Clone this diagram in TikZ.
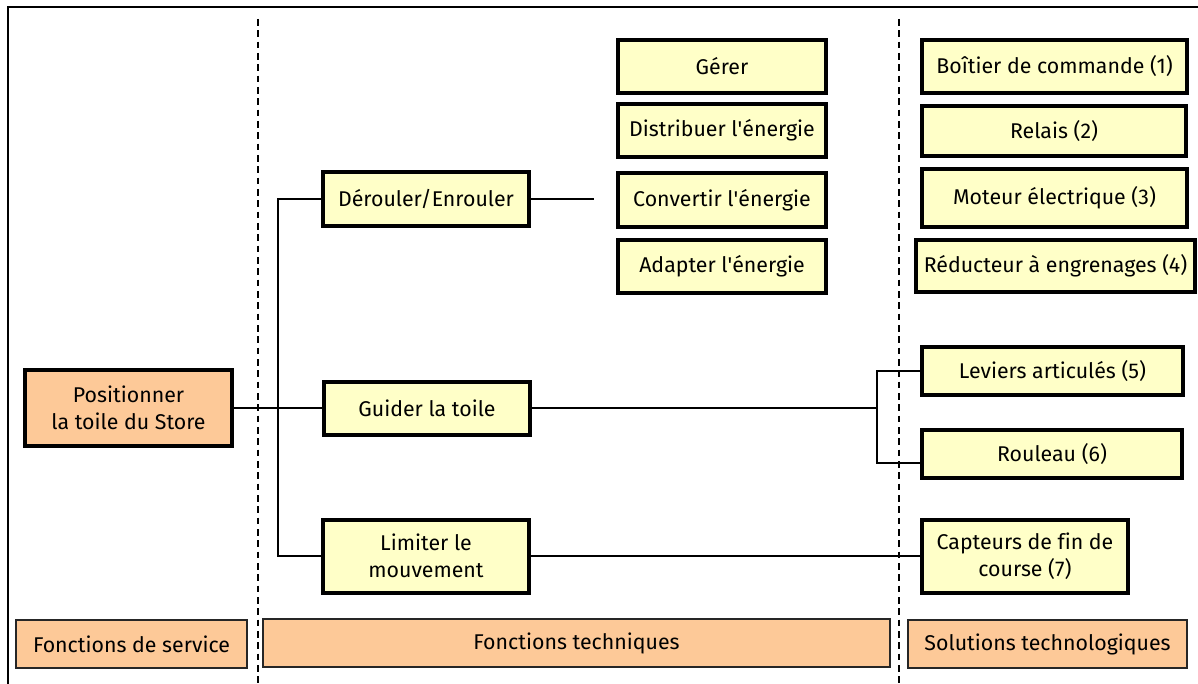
\documentclass[tikz,border=0pt]{standalone}
\usepackage{fontspec}
\setmainfont[Ligatures=NoCommon]{Fira Sans}
\definecolor{boxyellow}{HTML}{FFFFC8}
\definecolor{boxorange}{HTML}{FDC998}
\newcommand{\apos}{\textquotesingle}
\tikzset{
  px/.style={x=0.75pt,y=-0.75pt},
  bx/.style 2 args={minimum width=#1*0.75pt, minimum height=#2*0.75pt},
  fbox/.style={draw=black, line width=3pt, fill=boxyellow, inner sep=0pt, align=center,
    anchor=center, font=\fontsize{16}{20.5}\selectfont},
  sbox/.style={fbox, fill=boxorange},
  legbox/.style={draw=black!85, line width=1.2pt, fill=boxorange, inner sep=0pt, align=center,
    anchor=center, font=\fontsize{16}{20}\selectfont},
  conn/.style={line width=1.15pt},
  sep/.style={line width=1.4pt, dash pattern=on 5pt off 3.5pt},
}
\begin{document}
\begin{tikzpicture}[px]
\clip (0,0) rectangle (1198,684);
\fill[white] (0,0) rectangle (1198,684);
\draw[line width=1.1pt] (8,7) rectangle (1240,720);
% separators
\coordinate (s1t) at (258,19); \coordinate (s1b) at (258,690);
\coordinate (s2t) at (899,19); \coordinate (s2b) at (899,690);
\draw[sep] (s1t) -- (s1b);
\draw[sep] (s2t) -- (s2b);
% service function
\node[sbox, bx={207}{76}] (pos) at (128.5,408) {Positionner\\la toile du Store};
% technical functions
\node[fbox, bx={206}{54}] (der) at (426,199) {Dérouler/Enrouler};
\node[fbox, bx={206}{53}] (gui) at (427,408) {Guider la toile};
\node[fbox, bx={206}{73}] (lim) at (426,556) {Limiter le\\mouvement};
\node[fbox, bx={208}{53}] (ger) at (722,66.5) {Gérer};
\node[fbox, bx={208}{53}] (dis) at (722,130.5) {Distribuer l\apos énergie};
\node[fbox, bx={208}{54}] (con) at (722,200) {Convertir l\apos énergie};
\node[fbox, bx={208}{53}] (ada) at (722,266.5) {Adapter l\apos énergie};
% solutions
\node[fbox, bx={265}{53}] (boi) at (1054.5,66.5) {Boîtier de commande (1)};
\node[fbox, bx={264}{50}] (rel) at (1054,131) {Relais (2)};
\node[fbox, bx={265}{58}] (mot) at (1054.5,198) {Moteur électrique (3)};
\node[fbox, bx={279}{52}] (red) at (1055.5,266) {Réducteur à engrenages (4)};
\node[fbox, bx={261}{48}] (lev) at (1052.5,371) {Leviers articulés (5)};
\node[fbox, bx={260}{48}] (rou) at (1052,454) {Rouleau (6)};
\node[fbox, bx={206}{73}] (cap) at (1025,556) {Capteurs de fin de\\course (7)};
% legend
\node[legbox, bx={231}{48}] (lfs) at (131.5,644) {Fonctions de service};
\node[legbox, bx={627}{48}] (lft) at (576.5,643) {Fonctions techniques};
\node[legbox, bx={279}{48}] (lst) at (1047.5,644) {Solutions technologiques};
% connectors
\coordinate (tr) at (278,0);
\coordinate (dend) at (594,0);
\coordinate (br) at (877,0);
\coordinate (rj) at (922,463);
\draw[conn] (pos.east) -- (gui.west);
\draw[conn] (der.west) -- (der.west -| tr) -- (lim.west -| tr) -- (lim.west);
\draw[conn] (der.east) -- (der.east -| dend);
\draw[conn] (gui.east) -- (gui.east -| br);
\draw[conn] (lev.west) -- (lev.west -| br) -- (rj -| br) -- (rj);
\draw[conn] (lim.east) -- (cap.west);
\end{tikzpicture}
\end{document}
